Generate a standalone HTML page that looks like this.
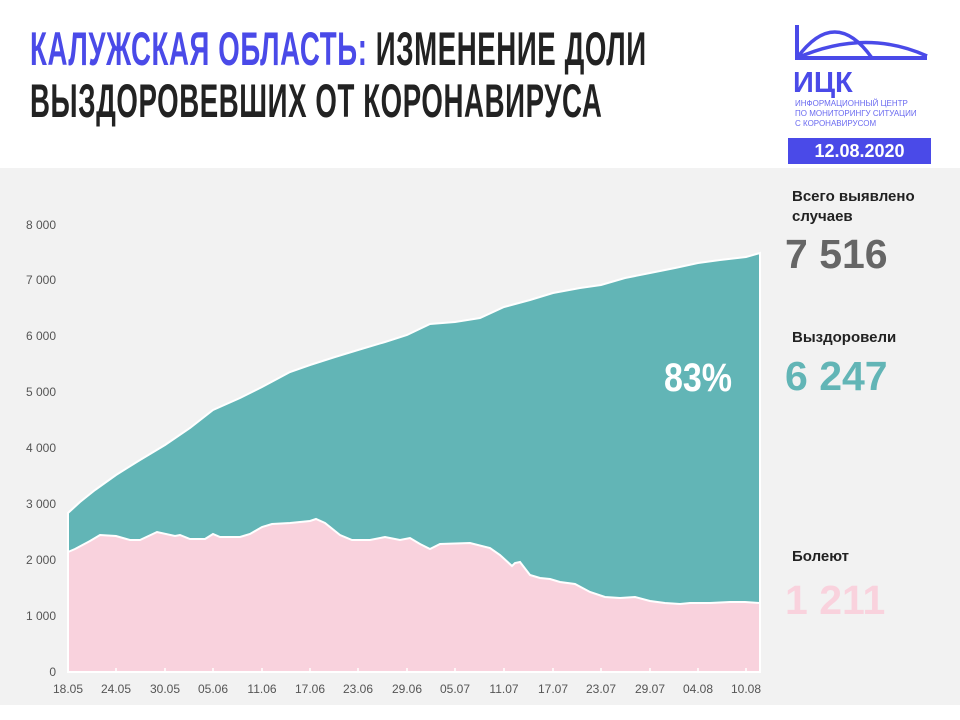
<!DOCTYPE html>
<html><head><meta charset="utf-8"><style>
body{margin:0;width:960px;height:720px;background:#fff;overflow:hidden;font-family:"Liberation Sans",sans-serif;position:relative}
.t{position:absolute;left:30px;font-family:"Liberation Sans Narrow","Liberation Sans",sans-serif;font-weight:bold;font-size:47px;line-height:47px;color:#222;transform:scaleX(0.588);transform-origin:left;white-space:nowrap;letter-spacing:1px}
.b{color:#4a4ae8}
.gray{position:absolute;left:0;top:168px;width:960px;height:537px;background:#f2f2f2}
.lbl{position:absolute;left:792px;font-size:15px;font-weight:bold;color:#222;line-height:20px}
.num{position:absolute;left:785px;font-size:41px;font-weight:bold;line-height:44px;letter-spacing:0px}
</style></head><body>
<div class="t" style="top:25px"><span class="b">КАЛУЖСКАЯ ОБЛАСТЬ:</span> ИЗМЕНЕНИЕ ДОЛИ</div>
<div class="t" style="top:77px">ВЫЗДОРОВЕВШИХ ОТ КОРОНАВИРУСА</div>
<svg style="position:absolute;left:790px;top:20px" width="145" height="112">
<path d="M7,5 V38 H137" fill="none" stroke="#4a4ae8" stroke-width="4"/>
<path d="M7,38 Q45,-14 82,38 M7,38 Q75,8 137,36" fill="none" stroke="#4a4ae8" stroke-width="3.5"/>
<text x="3" y="72" font-family="Liberation Sans" font-weight="bold" font-size="29" fill="#4a4ae8">ИЦК</text>
<text x="5" y="86" font-family="Liberation Sans" font-size="8" fill="#6a6af0">ИНФОРМАЦИОННЫЙ ЦЕНТР</text>
<text x="5" y="96" font-family="Liberation Sans" font-size="8" fill="#6a6af0">ПО МОНИТОРИНГУ СИТУАЦИИ</text>
<text x="5" y="106" font-family="Liberation Sans" font-size="8" fill="#6a6af0">С КОРОНАВИРУСОМ</text>
</svg>
<div style="position:absolute;left:788px;top:138px;width:143px;height:26px;background:#4a4ae8;color:#fff;font-weight:bold;font-size:18px;line-height:26px;text-align:center">12.08.2020</div>
<div class="gray"></div>
<svg style="position:absolute;left:0;top:0" width="960" height="720" font-family="Liberation Sans" font-size="12" fill="#555">
<g text-anchor="end">
<text x="56" y="676">0</text><text x="56" y="620">1 000</text><text x="56" y="564">2 000</text><text x="56" y="508">3 000</text><text x="56" y="452">4 000</text><text x="56" y="396">5 000</text><text x="56" y="340">6 000</text><text x="56" y="284">7 000</text><text x="56" y="229">8 000</text>
</g>
<path fill="#62b5b6" stroke="#fff" stroke-width="2" d="M68,672 L68,513 L80,502 L95,490 L116,475 L140,460 L165,445 L190,428 L213,410 L240,398 L262,387 L290,372 L310,365 L335,357 L358,350 L385,342 L407,335 L430,324 L455,322 L480,318 L504,307 L530,300 L553,293 L580,288 L601,285 L625,278 L650,273 L675,268 L698,263 L720,260 L746,257 L760,253 L760,672Z"/>
<path fill="#f9d2dd" stroke="#fff" stroke-width="2" d="M68,672 L68,552 L75,549 L90,541 L100,535 L116,536 L130,540 L140,540 L157,532 L175,536 L180,535 L190,539 L205,539 L213,534 L220,537 L240,537 L250,534 L262,527 L272,524 L290,523 L310,521 L316,519 L325,523 L340,535 L352,540 L370,540 L385,537 L400,540 L410,538 L420,544 L430,549 L440,544 L470,543 L490,548 L500,555 L512,566 L515,563 L520,562 L530,575 L540,578 L550,579 L560,582 L575,584 L590,592 L605,597 L620,598 L635,597 L650,601 L665,603 L680,604 L690,603 L710,603 L730,602 L745,602 L760,603 L760,672Z"/>
<line x1="68" y1="672" x2="760" y2="672" stroke="#fff" stroke-width="2"/>
<g stroke="#fff" stroke-width="1.5">
<line x1="116" y1="668" x2="116" y2="672"/><line x1="165" y1="668" x2="165" y2="672"/><line x1="213" y1="668" x2="213" y2="672"/><line x1="262" y1="668" x2="262" y2="672"/><line x1="310" y1="668" x2="310" y2="672"/><line x1="358" y1="668" x2="358" y2="672"/><line x1="407" y1="668" x2="407" y2="672"/><line x1="455" y1="668" x2="455" y2="672"/><line x1="504" y1="668" x2="504" y2="672"/><line x1="553" y1="668" x2="553" y2="672"/><line x1="601" y1="668" x2="601" y2="672"/><line x1="650" y1="668" x2="650" y2="672"/><line x1="698" y1="668" x2="698" y2="672"/><line x1="746" y1="668" x2="746" y2="672"/>
</g>
<g text-anchor="middle">
<text x="68" y="693">18.05</text><text x="116" y="693">24.05</text><text x="165" y="693">30.05</text><text x="213" y="693">05.06</text><text x="262" y="693">11.06</text><text x="310" y="693">17.06</text><text x="358" y="693">23.06</text><text x="407" y="693">29.06</text><text x="455" y="693">05.07</text><text x="504" y="693">11.07</text><text x="553" y="693">17.07</text><text x="601" y="693">23.07</text><text x="650" y="693">29.07</text><text x="698" y="693">04.08</text><text x="746" y="693">10.08</text>
</g>
<text x="698" y="391" text-anchor="middle" font-size="40" font-weight="bold" fill="#fff" transform="translate(698 0) scale(0.85 1) translate(-698 0)">83%</text>
</svg>
<div class="lbl" style="top:187px">Всего выявлено<br>случаев</div>
<div class="num" style="top:232px;color:#666">7 516</div>
<div class="lbl" style="top:328px">Выздоровели</div>
<div class="num" style="top:354px;color:#62b5b6">6 247</div>
<div class="lbl" style="top:547px">Болеют</div>
<div class="num" style="top:578px;color:#f9d2dd">1 211</div>
</body></html>
